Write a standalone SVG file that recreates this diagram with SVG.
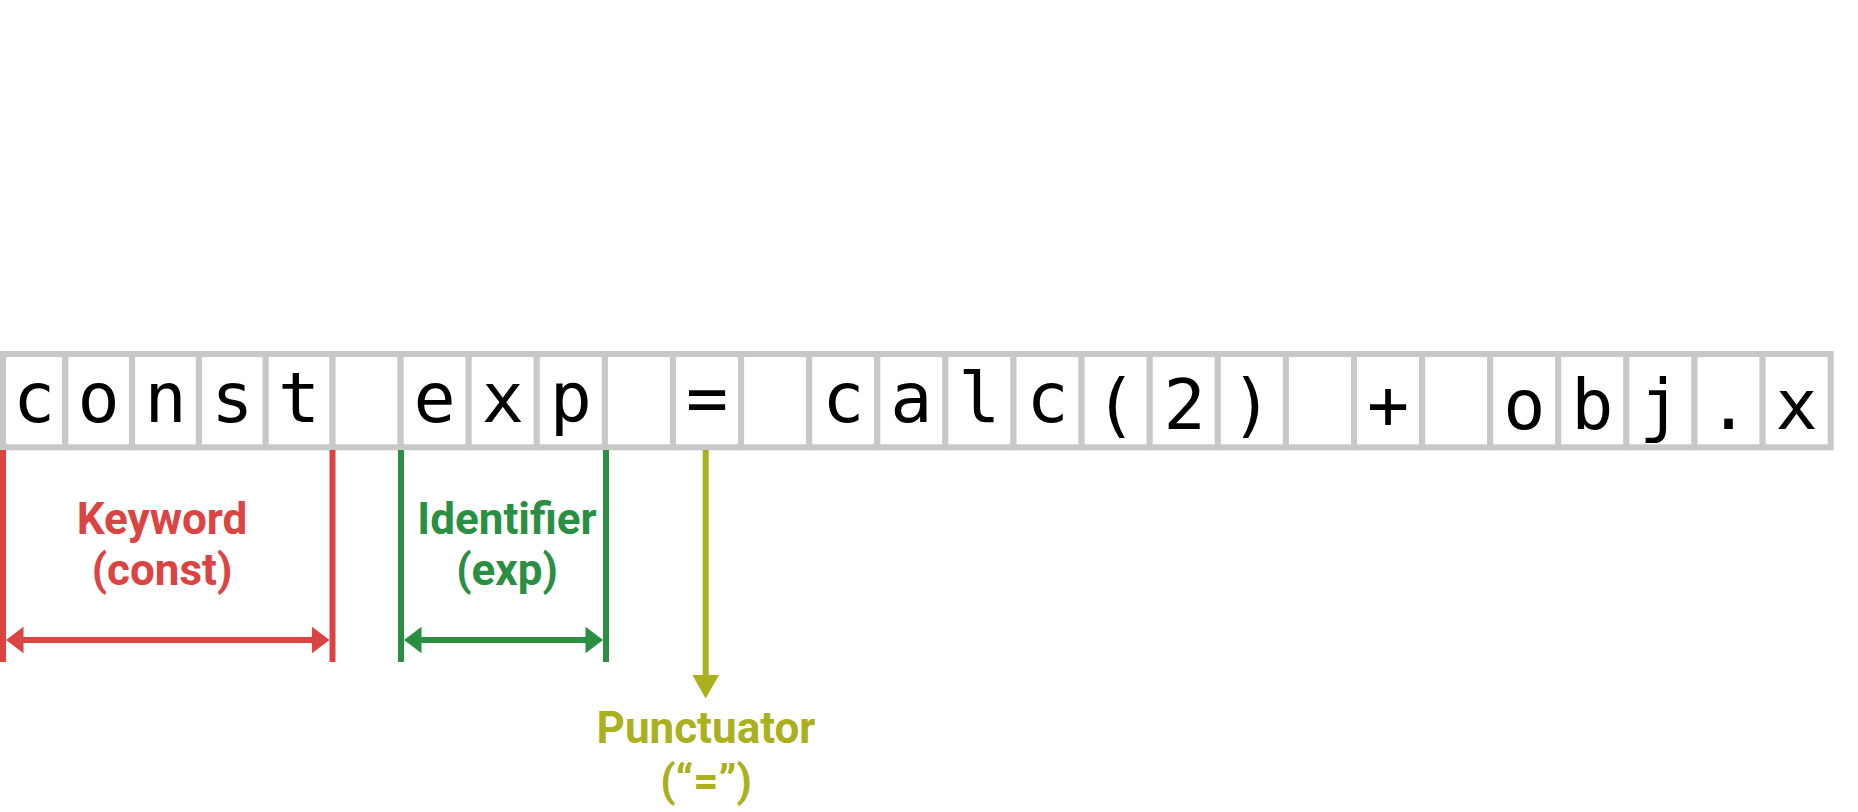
<svg xmlns="http://www.w3.org/2000/svg" width="1858" height="812" viewBox="0 0 1858 812">
<style>
.cell rect{fill:#fff;stroke:#c8c8c8;stroke-width:6}
.cell text{font-family:"DejaVu Sans Mono","Liberation Mono",monospace;font-size:70px;fill:#000;text-anchor:middle}
.lbl{font-family:Roboto,"Liberation Sans",sans-serif;font-weight:700;font-size:44px;text-anchor:middle}
.red{fill:#dc4343}
.grn{fill:#2b8f43}
.olv{fill:#abb01e}
</style>
<rect width="1858" height="812" fill="#fff"/>
<g id="strip">
<g id="cell-0" class="cell"><rect x="3" y="354" width="62.3" height="93.3"/><text x="34.2" y="422">c</text></g>
<g id="cell-1" class="cell"><rect x="65.3" y="354" width="66.8" height="93.3"/><text x="98.7" y="422">o</text></g>
<g id="cell-2" class="cell"><rect x="132.1" y="354" width="66.8" height="93.3"/><text x="165.5" y="422">n</text></g>
<g id="cell-3" class="cell"><rect x="198.9" y="354" width="66.8" height="93.3"/><text x="232.3" y="422">s</text></g>
<g id="cell-4" class="cell"><rect x="265.7" y="354" width="66.8" height="93.3"/><text x="299.1" y="422">t</text></g>
<g id="cell-5" class="cell"><rect x="332.5" y="354" width="68.1" height="93.3"/></g>
<g id="cell-6" class="cell"><rect x="400.6" y="354" width="68.1" height="93.3"/><text x="434.65" y="422">e</text></g>
<g id="cell-7" class="cell"><rect x="468.7" y="354" width="68.1" height="93.3"/><text x="502.75" y="422">x</text></g>
<g id="cell-8" class="cell"><rect x="536.8" y="354" width="68.1" height="93.3"/><text x="570.85" y="422">p</text></g>
<g id="cell-9" class="cell"><rect x="604.9" y="354" width="68.1" height="93.3"/></g>
<g id="cell-10" class="cell"><rect x="673" y="354" width="68.1" height="93.3"/><text x="707.05" y="422">=</text></g>
<g id="cell-11" class="cell"><rect x="741.1" y="354" width="68.1" height="93.3"/></g>
<g id="cell-12" class="cell"><rect x="809.2" y="354" width="68.1" height="93.3"/><text x="843.25" y="422">c</text></g>
<g id="cell-13" class="cell"><rect x="877.3" y="354" width="68.1" height="93.3"/><text x="911.35" y="422">a</text></g>
<g id="cell-14" class="cell"><rect x="945.4" y="354" width="68.1" height="93.3"/><text x="979.45" y="422">l</text></g>
<g id="cell-15" class="cell"><rect x="1013.5" y="354" width="68.1" height="93.3"/><text x="1047.55" y="422">c</text></g>
<g id="cell-16" class="cell"><rect x="1081.6" y="354" width="68.1" height="93.3"/><text x="1115.65" y="429">(</text></g>
<g id="cell-17" class="cell"><rect x="1149.7" y="354" width="68.1" height="93.3"/><text x="1184.5" y="429">2</text></g>
<g id="cell-18" class="cell"><rect x="1217.8" y="354" width="68.1" height="93.3"/><text x="1251.85" y="429">)</text></g>
<g id="cell-19" class="cell"><rect x="1285.9" y="354" width="68.1" height="93.3"/></g>
<g id="cell-20" class="cell"><rect x="1354" y="354" width="68.1" height="93.3"/><text x="1388.05" y="429">+</text></g>
<g id="cell-21" class="cell"><rect x="1422.1" y="354" width="68.1" height="93.3"/></g>
<g id="cell-22" class="cell"><rect x="1490.2" y="354" width="68.1" height="93.3"/><text x="1524.25" y="429">o</text></g>
<g id="cell-23" class="cell"><rect x="1558.3" y="354" width="68.1" height="93.3"/><text x="1592.35" y="429">b</text></g>
<g id="cell-24" class="cell"><rect x="1626.4" y="354" width="68.1" height="93.3"/><text x="1660.45" y="429">j</text></g>
<g id="cell-25" class="cell"><rect x="1694.5" y="354" width="68.1" height="93.3"/><text x="1728.55" y="429">.</text></g>
<g id="cell-26" class="cell"><rect x="1762.6" y="354" width="68.1" height="93.3"/><text x="1796.65" y="429">x</text></g>
</g>
<g id="connectors" stroke-width="6" fill="none">
<line x1="3" y1="450" x2="3" y2="662" stroke="#dc4343"/>
<line x1="332.5" y1="450" x2="332.5" y2="662" stroke="#dc4343"/>
<line x1="10" y1="640" x2="325" y2="640" stroke="#dc4343"/>
<polygon points="6,640 23.5,626.7 23.5,653.3" fill="#dc4343" stroke="none"/>
<polygon points="329.5,640 312,626.7 312,653.3" fill="#dc4343" stroke="none"/>
<line x1="401" y1="450" x2="401" y2="662" stroke="#2b8f43"/>
<line x1="606" y1="450" x2="606" y2="662" stroke="#2b8f43"/>
<line x1="410" y1="640" x2="598" y2="640" stroke="#2b8f43"/>
<polygon points="404,640 421.5,626.7 421.5,653.3" fill="#2b8f43" stroke="none"/>
<polygon points="603,640 585.5,626.7 585.5,653.3" fill="#2b8f43" stroke="none"/>
<line x1="705.7" y1="450" x2="705.7" y2="680" stroke="#abb01e"/>
<polygon points="692.3,675 719,675 705.7,698.5" fill="#abb01e" stroke="none"/>
</g>
<g id="label-keyword" class="lbl red"><text x="162" y="534">Keyword</text><text x="162" y="585">(const)</text></g>
<g id="label-identifier" class="lbl grn"><text x="507" y="534">Identifier</text><text x="507" y="585">(exp)</text></g>
<g id="label-punctuator" class="lbl olv"><text x="706" y="743">Punctuator</text><text x="706" y="796">(“=”)</text></g>
</svg>
